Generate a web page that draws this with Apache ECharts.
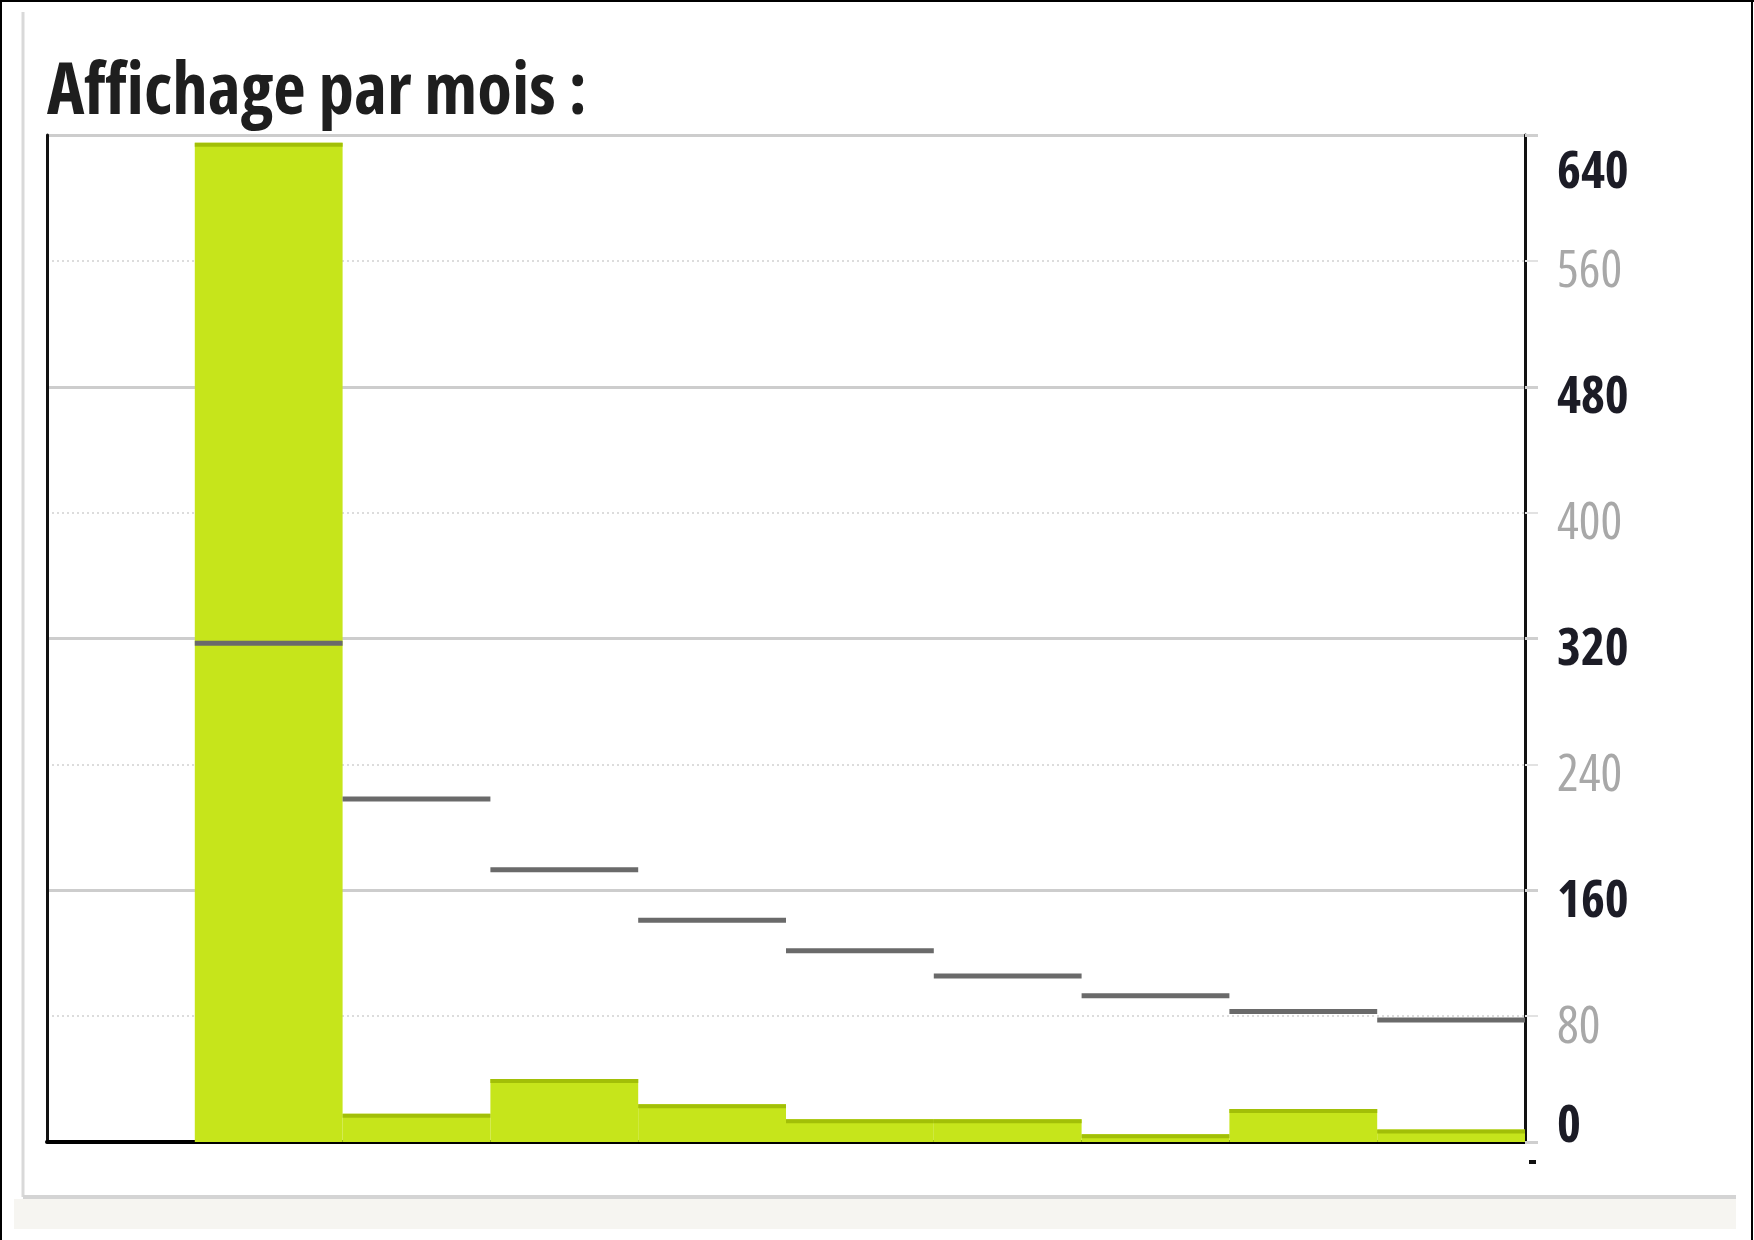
<!DOCTYPE html>
<html>
<head>
<meta charset="utf-8">
<script src="https://cdn.jsdelivr.net/npm/echarts@6/dist/echarts.min.js"></script>
<style>
html,body{margin:0;padding:0;background:#fff;}
#chart{width:1754px;height:1240px;}
</style>
</head>
<body>
<div id="chart"></div>
<script>
// ---- data ----
const titleText = 'Affichage par mois :';
const categories = ['m1', 'm2', 'm3', 'm4', 'm5', 'm6', 'm7', 'm8', 'm9', 'm10'];
const barValues = ['-', 635, 18, 40, 24, 14.5, 14.5, 5, 21, 8];
const avgValues = ['-', 317, 218, 173, 141, 121.5, 105.5, 93, 83, 77.5];
const yMin = 0, yMax = 640, yLabelStep = 80, yGridStep = 160;

// ---- pick the narrowest available font (reference uses a condensed face) ----
const ctx = document.createElement('canvas').getContext('2d');
const candidates = [
  { family: '"Liberation Sans Narrow"', stretch: '' },
  { family: '"DejaVu Sans"', stretch: 'condensed' },
  { family: '"Noto Sans"', stretch: 'condensed' },
  { family: '"Open Sans"', stretch: 'condensed' },
  { family: '"Liberation Sans"', stretch: '' }
];
function measure(c, weight, size, text) {
  ctx.font = '10px serif';
  const f = 'normal ' + weight + (c.stretch ? ' ' + c.stretch : '') + ' ' + size + 'px ' + c.family + ', "Liberation Sans"';
  ctx.font = f;
  if (ctx.font === '10px serif') return Infinity;
  return ctx.measureText(text).width;
}
let best = candidates[candidates.length - 1], bestW = Infinity;
candidates.forEach(c => { const w = measure(c, 'bold', 100, titleText); if (w < bestW) { bestW = w; best = c; } });
const FAMILY = best.family + ', "Liberation Sans", sans-serif';
const BOLD = 'bold' + (best.stretch ? ' ' + best.stretch : '');
const REG = 'normal' + (best.stretch ? ' ' + best.stretch : '');
const titleSize = Math.min(71, Math.round(100 * 546 / bestW));
const labelW = measure(best, 'bold', 100, '640');
const labelSize = Math.min(60, Math.round(100 * 72 / labelW));

const chart = echarts.init(document.getElementById('chart'));

const segData = avgValues.map((v, i) => [i, v]).filter(d => d[1] !== '-');
const bandData = barValues.map((v, i) => [i, v]).filter(d => d[1] !== '-');

const lab = (extra) => Object.assign({ fontFamily: FAMILY, fontSize: labelSize, fontStyle: 'normal' }, extra);

chart.setOption({
  backgroundColor: '#ffffff',
  animation: false,
  title: {
    text: titleText,
    left: 47, top: 118 - Math.round(titleSize * 0.85), padding: 0,
    textStyle: { fontFamily: FAMILY, fontSize: titleSize, fontStyle: 'normal', fontWeight: BOLD, color: '#1e1e1e' }
  },
  grid: { left: 47, right: 229, top: 135, bottom: 98 },
  xAxis: {
    type: 'category',
    data: categories,
    boundaryGap: true,
    axisLine: { show: true, lineStyle: { color: '#000', width: 4 } },
    axisTick: { show: false },
    axisLabel: { show: false },
    splitLine: { show: false }
  },
  yAxis: [
    {
      type: 'value', position: 'right', min: yMin, max: yMax, interval: yGridStep,
      axisLine: { show: true, onZero: false, lineStyle: { color: '#111', width: 3 } },
      axisTick: { show: true, length: 13, lineStyle: { color: '#cfcfcf', width: 3 } },
      minorTick: { show: true, splitNumber: 2, length: 13, lineStyle: { color: '#e2e2e2', width: 2 } },
      axisLabel: { show: false },
      splitLine: { show: true, lineStyle: { color: '#cdcdcd', width: 3 } },
      minorSplitLine: { show: true, lineStyle: { color: '#dcdcdc', width: 2, type: [2, 3] } }
    },
    {
      type: 'value', position: 'right', min: yMin, max: yMax, interval: yLabelStep,
      axisLine: { show: false }, axisTick: { show: false }, splitLine: { show: false },
      axisLabel: {
        show: true, margin: 32, align: 'left',
        formatter: function (v) {
          let s = (v % yGridStep === 0) ? 'd' : 'l';
          if (v === yMax) s = 'dt';
          if (v === yMin) s = 'dz';
          return '{' + s + '|' + v + '}';
        },
        rich: {
          d:  lab({ fontWeight: BOLD, color: '#1c1c26', padding: [24, 0, 0, 0] }),
          dt: lab({ fontWeight: BOLD, color: '#1c1c26', padding: [76, 0, 0, 0] }),
          dz: lab({ fontWeight: BOLD, color: '#1c1c26', padding: [0, 0, 30, 0] }),
          l:  lab({ fontWeight: REG, color: '#a8a8a8', padding: [24, 0, 0, 0] })
        }
      }
    },
    {
      type: 'value', position: 'left', min: yMin, max: yMax, interval: yGridStep,
      axisLine: { show: true, onZero: false, lineStyle: { color: '#111', width: 3 } },
      axisTick: { show: false }, axisLabel: { show: false }, splitLine: { show: false }
    }
  ],
  series: [
    {
      name: 'Affichages',
      type: 'bar',
      yAxisIndex: 0,
      data: barValues,
      barCategoryGap: '0%',
      itemStyle: { color: '#c6e51b' },
      z: 2
    },
    {
      name: 'topband',
      type: 'custom',
      yAxisIndex: 0,
      data: bandData,
      encode: { x: 0, y: 1 },
      z: 3,
      renderItem: function (params, api) {
        const p = api.coord([api.value(0), api.value(1)]);
        const w = api.size([1, 0])[0];
        return { type: 'rect', shape: { x: p[0] - w / 2, y: p[1], width: w, height: 4 },
                 style: { fill: '#a2bf08' } };
      }
    },
    {
      name: 'Moyenne',
      type: 'custom',
      yAxisIndex: 0,
      data: segData,
      encode: { x: 0, y: 1 },
      z: 4,
      renderItem: function (params, api) {
        const p = api.coord([api.value(0), api.value(1)]);
        const w = api.size([1, 0])[0];
        return { type: 'line', shape: { x1: p[0] - w / 2, y1: p[1], x2: p[0] + w / 2, y2: p[1] },
                 style: { stroke: '#6a6a6a', lineWidth: 5 } };
      }
    }
  ],
  graphic: [
    { type: 'line', shape: { x1: 0, y1: 1, x2: 1754, y2: 1 }, style: { stroke: '#000', lineWidth: 2 } },
    { type: 'line', shape: { x1: 1, y1: 0, x2: 1, y2: 1240 }, style: { stroke: '#000', lineWidth: 2 } },
    { type: 'line', shape: { x1: 1752, y1: 0, x2: 1752, y2: 1240 }, style: { stroke: '#000', lineWidth: 2 } },
    { type: 'line', shape: { x1: 23, y1: 12, x2: 23, y2: 1197 }, style: { stroke: '#d9d9d9', lineWidth: 3 } },
    { type: 'rect', shape: { x: 14, y: 1199, width: 1722, height: 30 }, style: { fill: '#f6f5f1' } },
    { type: 'line', shape: { x1: 23, y1: 1197, x2: 1736, y2: 1197 }, style: { stroke: '#d4d4d4', lineWidth: 4 } },
    { type: 'rect', shape: { x: 1529, y: 1160, width: 7, height: 4 }, style: { fill: '#111' } }
  ]
});
</script>
</body>
</html>
